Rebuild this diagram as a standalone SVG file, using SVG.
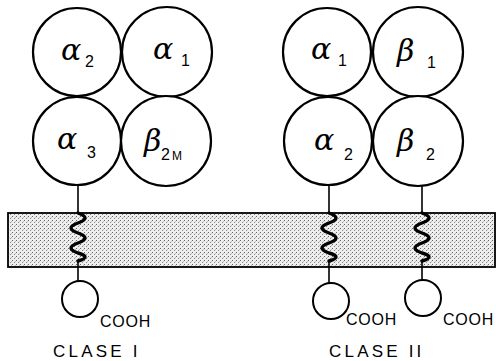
<svg xmlns="http://www.w3.org/2000/svg" width="496" height="361" viewBox="0 0 496 361">
<style>
.big{fill:#fff;stroke:#000;stroke-width:2.2}
.small{fill:#fff;stroke:#000;stroke-width:2}
.greek{font-family:"DejaVu Serif","Liberation Serif",serif;font-style:italic;font-size:30px;fill:#000}
.sub{font-family:"Liberation Sans","DejaVu Sans",sans-serif;font-size:16px;fill:#000}
.lbl{font-family:"Liberation Sans","DejaVu Sans",sans-serif;font-size:16px;letter-spacing:0.8px;fill:#000}
.cls{font-family:"Liberation Sans","DejaVu Sans",sans-serif;font-size:17px;letter-spacing:3.2px;fill:#000}
.stem{fill:none;stroke:#000;stroke-width:1.6}
.wave{fill:none;stroke:#000;stroke-width:3.4;stroke-linecap:round}
</style>
<defs>
<pattern id="dots" width="4" height="4" patternUnits="userSpaceOnUse">
<rect width="4" height="4" fill="#eeeeee"/>
<rect x="0" y="0" width="1" height="1" fill="#666"/>
<rect x="2" y="2" width="1" height="1" fill="#888"/>
<rect x="3" y="1" width="1" height="1" fill="#bbb"/>
</pattern>
</defs>
<rect width="496" height="361" fill="#fff"/>
<g id="membrane">
<rect x="8" y="213" width="487" height="54" fill="url(#dots)" stroke="#000" stroke-width="1.8"/>
</g>
<g id="connectors">
<line class="stem" x1="78" y1="185" x2="78" y2="213"/>
<path class="wave" d="M78,213 q14,5 0,10 q-14,5 0,10 q14,5 0,10 q-14,5 0,10 q14,4 0,8"/>
<line class="stem" x1="78" y1="261" x2="78" y2="281"/>
<line class="stem" x1="329" y1="185" x2="329" y2="213"/>
<path class="wave" d="M329,213 q14,5 0,10 q-14,5 0,10 q14,5 0,10 q-14,5 0,10 q14,4 0,8"/>
<line class="stem" x1="329" y1="261" x2="329" y2="283"/>
<line class="stem" x1="422" y1="185" x2="422" y2="213"/>
<path class="wave" d="M422,213 q14,5 0,10 q-14,5 0,10 q14,5 0,10 q-14,5 0,10 q14,4 0,8"/>
<line class="stem" x1="422" y1="261" x2="422" y2="281"/>
</g>
<g id="c1-alpha2"><circle class="big" cx="77" cy="52" r="44"/><text class="greek" x="61" y="60">α</text><text class="sub" x="85" y="67">2</text></g>
<g id="c1-alpha1"><circle class="big" cx="167" cy="52" r="45"/><text class="greek" x="153" y="59">α</text><text class="sub" x="181" y="66">1</text></g>
<g id="c1-alpha3"><circle class="big" cx="77" cy="141" r="44"/><text class="greek" x="57" y="149">α</text><text class="sub" x="87" y="158">3</text></g>
<g id="c1-beta2m"><circle class="big" cx="166" cy="141" r="45"/><text class="greek" x="144" y="151">β</text><text class="sub" x="161" y="160">2</text><text class="sub" x="172" y="160" style="font-size:12px">M</text></g>
<g id="c1-cooh"><circle class="small" cx="80" cy="299" r="18"/><text class="lbl" x="100" y="327">COOH</text></g>
<g id="c2-alpha1"><circle class="big" cx="327" cy="52" r="44"/><text class="greek" x="311" y="59">α</text><text class="sub" x="338" y="66">1</text></g>
<g id="c2-beta1"><circle class="big" cx="418" cy="52" r="45"/><text class="greek" x="397" y="61">β</text><text class="sub" x="427" y="68">1</text></g>
<g id="c2-alpha2"><circle class="big" cx="328" cy="141" r="44"/><text class="greek" x="314" y="150">α</text><text class="sub" x="344" y="160">2</text></g>
<g id="c2-beta2"><circle class="big" cx="418" cy="141" r="45"/><text class="greek" x="397" y="151">β</text><text class="sub" x="426" y="160">2</text></g>
<g id="c2-cooh-a"><circle class="small" cx="331" cy="301" r="18"/><text class="lbl" x="346" y="325">COOH</text></g>
<g id="c2-cooh-b"><circle class="small" cx="423" cy="298" r="18"/><text class="lbl" x="443" y="325">COOH</text></g>
<g id="labels">
<text class="cls" x="53" y="357">CLASE I</text>
<text class="cls" x="329" y="357">CLASE II</text>
</g>
</svg>
